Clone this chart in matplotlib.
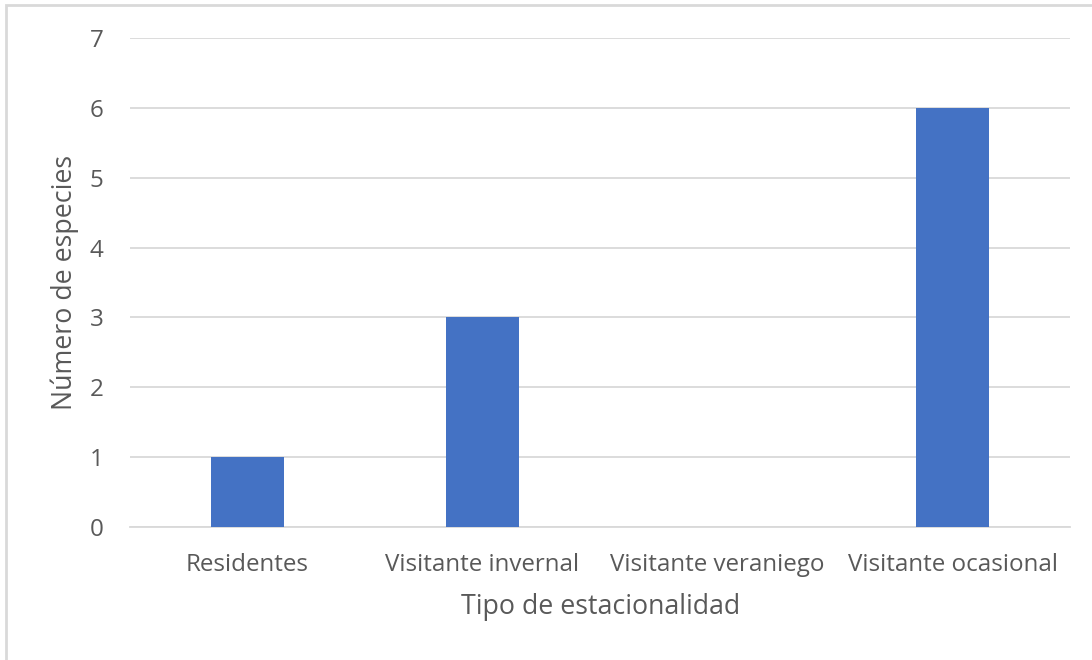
import matplotlib
matplotlib.use("Agg")
import matplotlib.pyplot as plt
from matplotlib.patches import Rectangle

categories = ["Residentes", "Visitante invernal", "Visitante veraniego", "Visitante ocasional"]
species_counts = [1, 3, 0, 6]
y_ticks = [0, 1, 2, 3, 4, 5, 6, 7]

plt.rcParams["font.family"] = ["Open Sans", "DejaVu Sans"]
text_color = "#595959"
grid_color = "#d9d9d9"
bar_color = "#4472c4"

W, H = 1092, 660
fig = plt.figure(figsize=(W / 100, H / 100), dpi=100)
fig.patch.set_facecolor("white")

# chart area frame (left and top edges visible)
fig.add_artist(Rectangle((5.5 / W, -0.1), 1.2, 1.1 - 5.5 / H,
                         transform=fig.transFigure, fill=False,
                         edgecolor="#d9d9d9", linewidth=2))

ax = fig.add_axes([130 / W, (H - 527) / H, (1070 - 130) / W, (527 - 38) / H])
x = list(range(len(categories)))
ax.bar(x, species_counts, width=0.31, color=bar_color, zorder=3)

ax.set_xlim(-0.5, len(categories) - 0.5)
ax.set_ylim(0, 7)
ax.set_yticks(y_ticks)
ax.set_xticks(x)
ax.set_xticklabels(categories)
ax.yaxis.grid(True, color=grid_color, linewidth=1.3, zorder=0)
ax.set_axisbelow(True)
for s in ["top", "right", "left"]:
    ax.spines[s].set_visible(False)
ax.spines["bottom"].set_color(grid_color)
ax.spines["bottom"].set_linewidth(1.3)
ax.tick_params(axis="both", length=0, colors=text_color, labelsize=17.4)
ax.tick_params(axis="x", pad=19)
ax.tick_params(axis="y", pad=19)

ax.set_xlabel("Tipo de estacionalidad", color=text_color, fontsize=19.3)
ax.set_ylabel("Número de especies", color=text_color, fontsize=19.3)
ax.xaxis.label.set_verticalalignment("center")
ax.yaxis.label.set_verticalalignment("center")
ax.xaxis.set_label_coords(0.5005, (527 - 607) / 489)
ax.yaxis.set_label_coords((65 - 130) / 940, 0.5)

fig.savefig("out.png", dpi=100, facecolor="white")
